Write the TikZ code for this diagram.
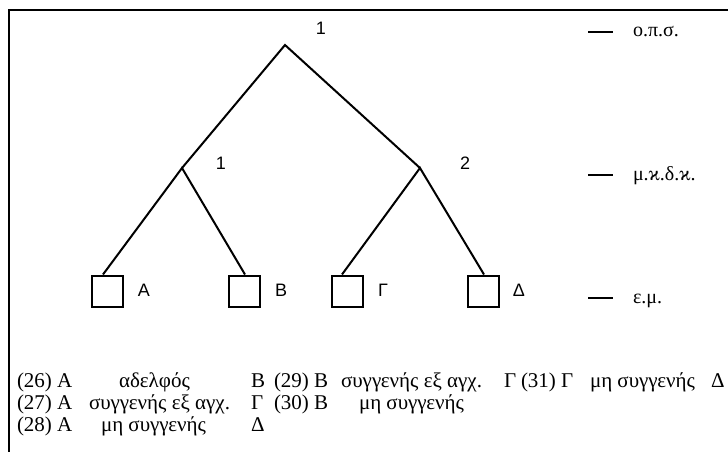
\documentclass[tikz,border=0pt]{standalone}
\usepackage{fontspec}
\setmainfont{Liberation Serif}
\newfontfamily\labelfont{Liberation Sans}
\tikzstyle{box} = [draw, line width=2pt, minimum size=31pt, inner sep=0pt]
\tikzstyle{lab} = [inner sep=0pt, font=\labelfont\fontsize{18}{18}\selectfont]
\tikzstyle{txt} = [inner sep=0pt, anchor=base west, font=\fontsize{21}{22}\selectfont]
\tikzstyle{lvl} = [inner sep=0pt, anchor=base west, font=\fontsize{20}{22}\selectfont]

\begin{document}
\begin{tikzpicture}[x=1pt,y=-1pt,line width=2pt]
			\useasboundingbox (0,0) rectangle (728,452);
			\draw [line width=1.5pt] (728,10) -- (9,10) -- (9,452);
			% tree
			\coordinate (root) at (285,45);
			\coordinate (midL) at (182,168);
			\coordinate (midR) at (420,168);
			\node [box] (bA) at (107,291) {};
			\node [box] (bB) at (244,291) {};
			\node [box] (bG) at (347,291) {};
			\node [box] (bD) at (483,291) {};
			\draw (midL) -- (root) -- (midR);
			\draw ([xshift=-4pt]bA.north) -- (midL) -- ([xshift=1pt]bB.north);
			\draw ([xshift=-5pt]bG.north) -- (midR) -- ([xshift=1pt]bD.north);
			\node [lab] (n0) at (321,28) {1};
			\node [lab] (n1) at (221,163) {1};
			\node [lab] (n2) at (465,163) {2};
			\node [lab] (lA) at (144,290) {Α};
			\node [lab] (lB) at (281,290) {Β};
			\node [lab] (lG) at (383,290) {Γ};
			\node [lab] (lD) at (519,290) {Δ};
			% levels
			\coordinate (t1) at (588,32);
			\coordinate (t2) at (588,175);
			\coordinate (t3) at (588,298);
			\draw (t1) -- +(25,0);
			\draw (t2) -- +(25,0);
			\draw (t3) -- +(25,0);
			\node [lvl] (ops) at (632,37) {ο.π.σ.};
			\node [lvl] (mkdk) at (632,180) {μ.ϰ.δ.ϰ.};
			\node [lvl] (em) at (632,303) {ε.μ.};
			% examples
			\node [txt] (e26) at (16,387) {(26) Α};
			\node [txt] (e26a) at (118,387) {αδελφός};
			\node [txt] (e26b) at (250,387) {Β};
			\node [txt] (e29) at (273,387) {(29) Β};
			\node [txt] (e29a) at (340,387) {συγγενής εξ αγχ.};
			\node [txt] (e29b) at (503,387) {Γ};
			\node [txt] (e31) at (520,387) {(31) Γ};
			\node [txt] (e31a) at (589,387) {μη συγγενής};
			\node [txt] (e31b) at (710,387) {Δ};
			\node [txt] (e27) at (16,409) {(27) Α};
			\node [txt] (e27a) at (88,409) {συγγενής εξ αγχ.};
			\node [txt] (e27b) at (250,409) {Γ};
			\node [txt] (e30) at (273,409) {(30) Β};
			\node [txt] (e30a) at (358,409) {μη συγγενής};
			\node [txt] (e28) at (16,431) {(28) Α};
			\node [txt] (e28a) at (100,431) {μη συγγενής};
			\node [txt] (e28b) at (250,431) {Δ};
		\end{tikzpicture}
\end{document}
